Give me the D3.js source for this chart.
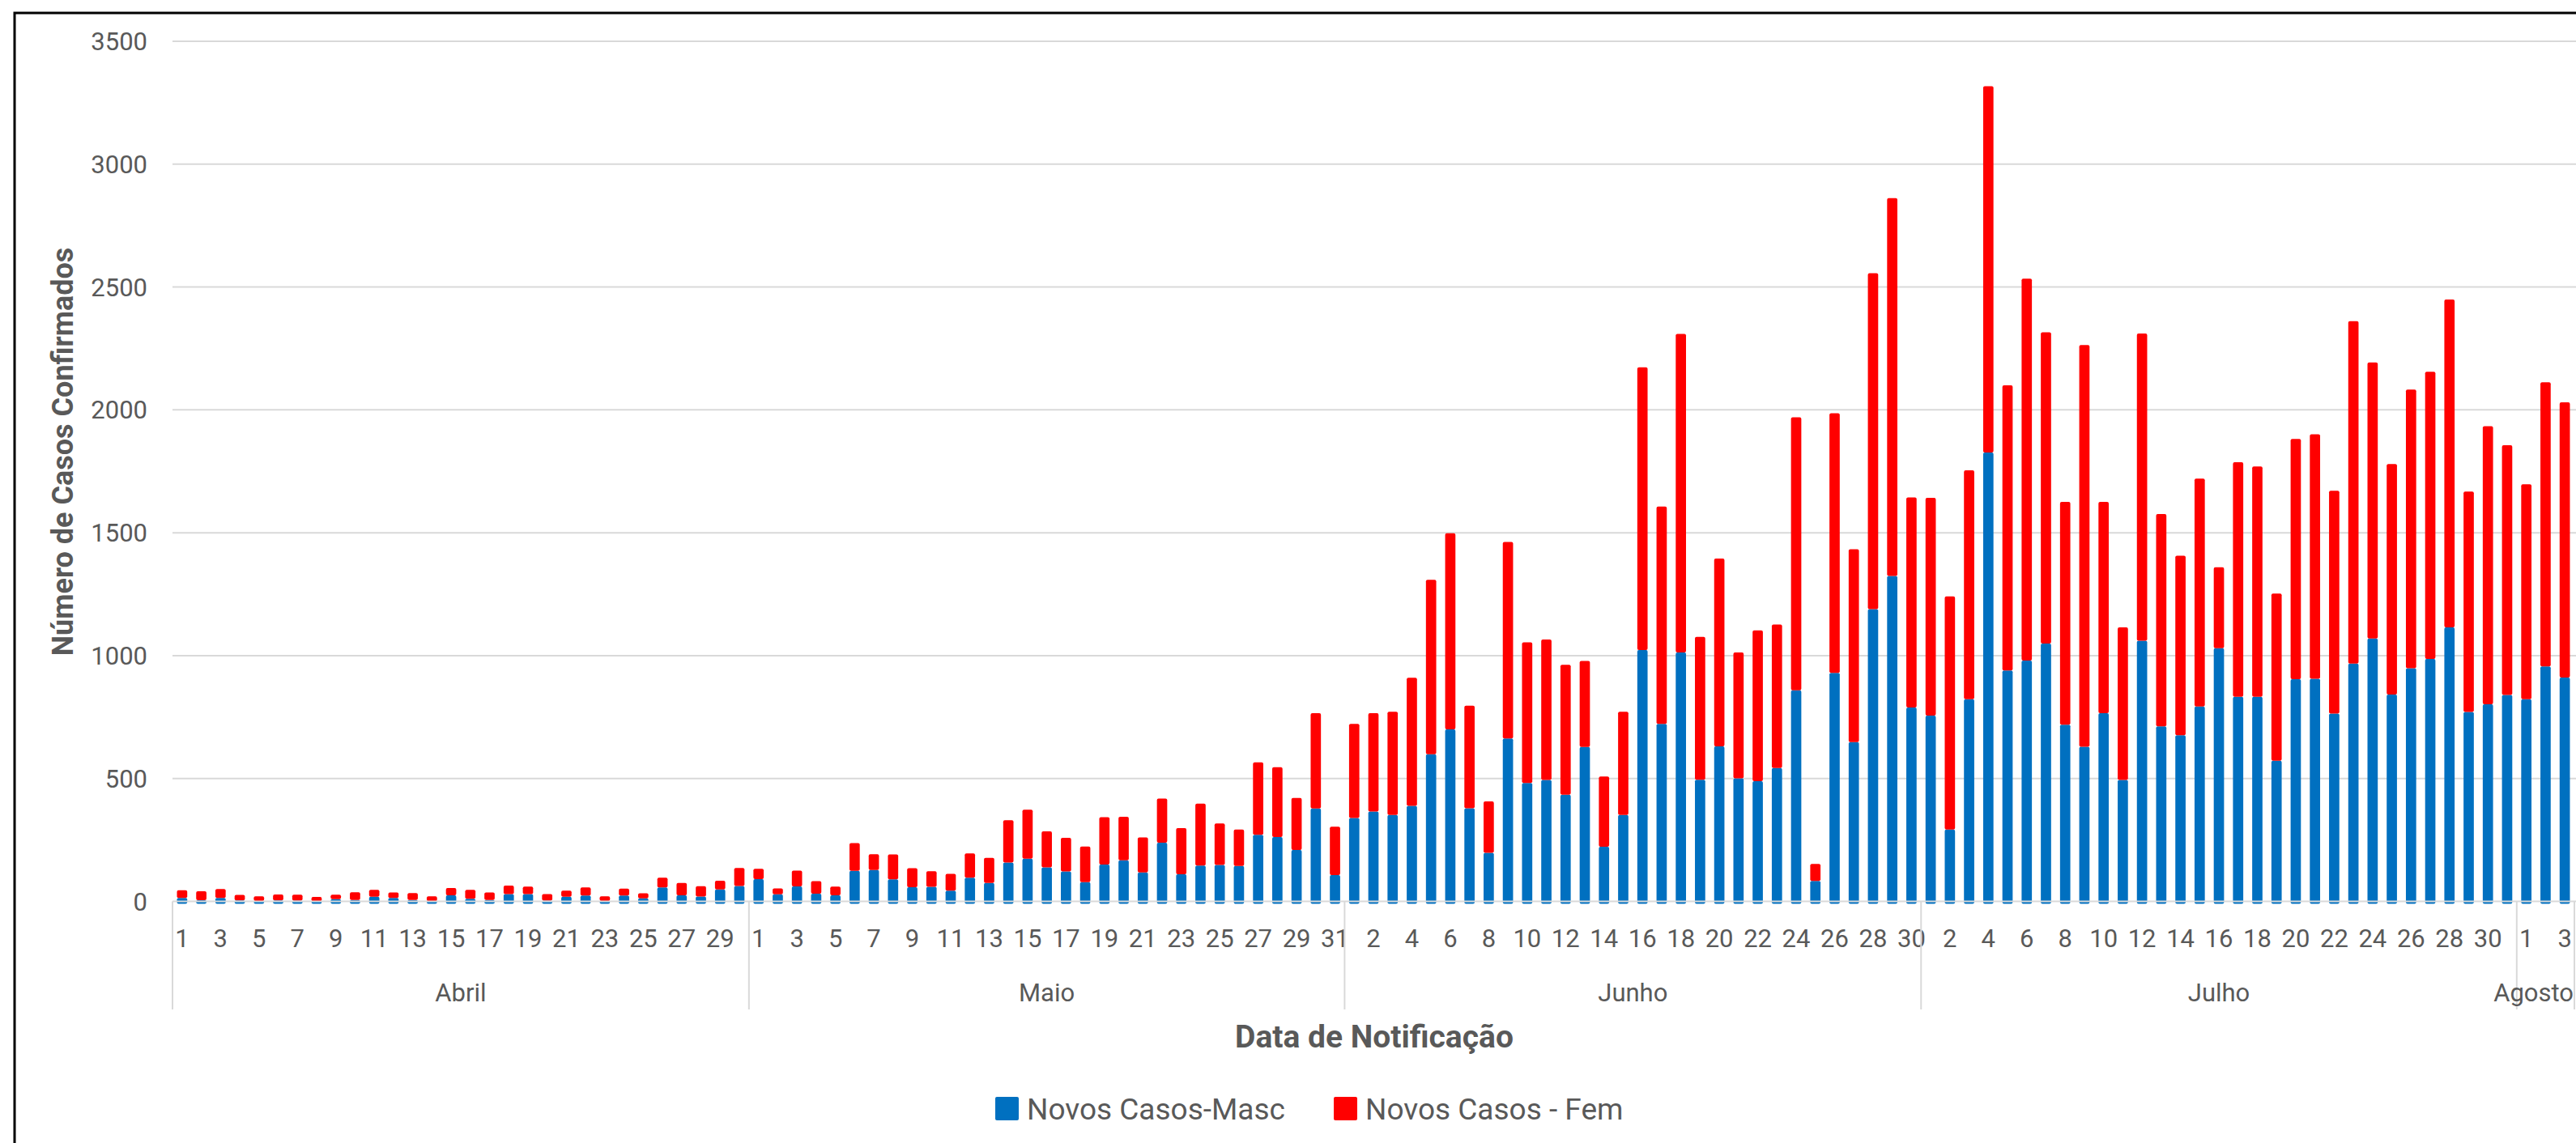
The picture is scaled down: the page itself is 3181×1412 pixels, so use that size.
<!DOCTYPE html>
<html><head><meta charset="utf-8">
<script src="https://cdn.jsdelivr.net/npm/d3@7"></script>
<style>
html,body{margin:0;padding:0;background:#fff;overflow:hidden}
text{font-family:Roboto,"Open Sans",sans-serif;fill:#595959}
</style>
</head><body>
<svg id="c" width="3181" height="1412"></svg>
<script>
// ---- categories ----
const months = ["Abril", "Maio", "Junho", "Julho", "Agosto"];
const monthDays = [30, 31, 30, 31, 3];

// ---- series values ----
const seriesNames = ["Novos Casos-Masc", "Novos Casos - Fem"];
const masc = [
  14,5,14,4,2,4,3,1,9,6,19,14,6,1,25,11,6,30,30,3,19,24,2,24,12,57,25,20,49,63,
  91,29,61,31,25,124,128,90,58,59,44,96,75,158,174,138,122,78,150,167,118,239,110,146,148,144,271,262,209,378,107,
  339,366,352,389,599,700,379,198,663,482,494,434,628,222,352,1023,722,1013,495,631,501,489,543,859,83,930,648,1189,1324,789,
  756,292,823,1827,940,980,1049,719,629,766,494,1061,712,676,793,1030,833,833,572,904,906,764,968,1070,842,949,987,1115,771,802,840,
  823,956,911
];
const fem = [
  31,36,36,22,19,24,24,17,18,31,28,22,28,20,29,36,30,34,30,27,25,33,19,28,21,39,50,42,35,73,
  42,24,64,51,35,113,64,101,77,64,68,99,102,172,199,147,137,145,193,177,142,179,188,252,169,148,295,284,212,388,197,
  383,400,420,521,710,798,417,209,800,572,572,529,350,286,420,1150,885,1296,581,764,512,614,584,1111,69,1056,785,1367,1538,855,
  886,949,931,1490,1160,1554,1267,907,1635,860,621,1250,864,731,927,330,954,937,681,978,995,907,1393,1123,938,1134,1168,1334,897,1132,1016,
  874,1156,1120
];

// ---- tick labels ----
const yTicks = [0, 500, 1000, 1500, 2000, 2500, 3000, 3500];
const colors = ["#0070C0", "#FF0000"];

// build categories
const cats = [];
months.forEach((m, i) => { for (let d = 1; d <= monthDays[i]; d++) cats.push({ key: m + "-" + d, month: m, day: d }); });
const table = cats.map((c, i) => ({ key: c.key, masc: masc[i], fem: fem[i] }));

const svg = d3.select("#c");
const x = d3.scaleBand().domain(cats.map(c => c.key)).range([213, 3179]).paddingInner(0.465).paddingOuter(0.2325);
const y = d3.scaleLinear().domain([0, 3500]).range([1113.5, 51]);
const gap = (x.step() - x.bandwidth()) / 2;

// frame
svg.append("rect").attr("x", 18).attr("y", 16).attr("width", 3300).attr("height", 1500)
  .attr("fill", "none").attr("stroke", "#000").attr("stroke-width", 3);

// gridlines
svg.append("g").selectAll("line").data(yTicks.filter(t => t > 0)).join("line")
  .attr("x1", 213).attr("x2", 3181).attr("y1", d => y(d)).attr("y2", d => y(d))
  .attr("stroke", "#d9d9d9").attr("stroke-width", 2);

// y tick labels
svg.append("g").selectAll("text").data(yTicks).join("text")
  .attr("x", 182).attr("y", d => y(d) + 11).attr("text-anchor", "end")
  .attr("font-size", 31).text(d => d);

// bars
const stacked = d3.stack().keys(["masc", "fem"])(table);
svg.append("g").selectAll("g").data(stacked).join("g")
  .attr("fill", (d, i) => colors[i])
  .selectAll("rect").data((d, i) => d.map(v => ({ v, i }))).join("rect")
  .attr("x", d => x(d.v.data.key))
  .attr("width", x.bandwidth())
  .attr("y", d => y(d.v[1]))
  .attr("height", d => Math.max(0, y(d.v[0]) - y(d.v[1]) + (d.i === 0 ? 3 : 0)))
  .attr("rx", 2);

// baseline axis
svg.append("line").attr("x1", 213).attr("x2", 3181).attr("y1", y(0)).attr("y2", y(0))
  .attr("stroke", "#d9d9d9").attr("stroke-width", 2);

// day labels
svg.append("g").selectAll("text").data(cats.filter((c, i) => i % 2 === 0)).join("text")
  .attr("x", d => x(d.key) + x.bandwidth() / 2).attr("y", 1170)
  .attr("text-anchor", "middle").attr("font-size", 31).text(d => d.day);

// month groups
let start = 0;
const groups = months.map((m, i) => { const g = { m, s: start, e: start + monthDays[i] }; start += monthDays[i]; return g; });
const bound = idx => idx < cats.length ? x(cats[idx].key) - gap : x(cats[cats.length - 1].key) + x.bandwidth() + gap;
const sepIdx = [0].concat(groups.map(g => g.e));
svg.append("g").selectAll("line").data(sepIdx).join("line")
  .attr("x1", d => bound(d)).attr("x2", d => bound(d))
  .attr("y1", y(0)).attr("y2", 1247)
  .attr("stroke", "#d9d9d9").attr("stroke-width", 2);
svg.append("g").selectAll("text").data(groups).join("text")
  .attr("x", (d, i) => i === groups.length - 1 ? 3178 : (bound(d.s) + bound(d.e)) / 2).attr("y", 1237)
  .attr("text-anchor", (d, i) => i === groups.length - 1 ? "end" : "middle")
  .attr("font-size", 31).text(d => d.m);

// axis titles
svg.append("text").attr("x", 1697).attr("y", 1294).attr("text-anchor", "middle")
  .attr("font-size", 39).attr("font-weight", "bold").text("Data de Notificação");
svg.append("text").attr("transform", "translate(90,558) rotate(-90)").attr("text-anchor", "middle")
  .attr("font-size", 36).attr("font-weight", "bold").text("Número de Casos Confirmados");

// legend
const legX = [1229, 1647];
const leg = svg.append("g").selectAll("g").data(seriesNames).join("g")
  .attr("transform", (d, i) => `translate(${legX[i]},1355)`);
leg.append("rect").attr("width", 29).attr("height", 29).attr("rx", 2).attr("fill", (d, i) => colors[i]);
leg.append("text").attr("x", 39).attr("y", 28).attr("font-size", 37).text(d => d);
</script>
</body></html>
